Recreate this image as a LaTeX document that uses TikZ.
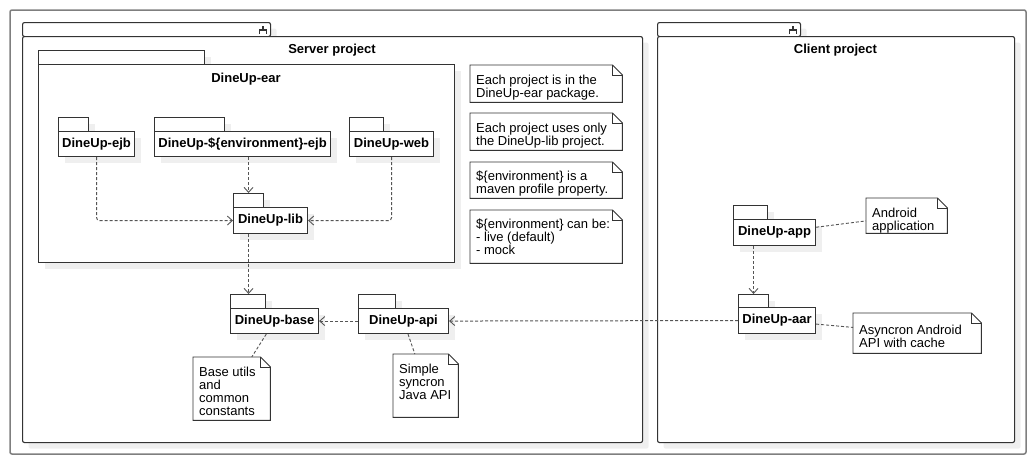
\documentclass[tikz,border=0pt]{standalone}
\usepackage{fontspec}
\setmainfont{Liberation Sans}
\usetikzlibrary{arrows.meta,shadows,calc}
\definecolor{ln}{HTML}{333333}
\definecolor{dl}{HTML}{555555}
\definecolor{sh}{HTML}{EFEFEF}
\definecolor{og}{HTML}{7F7F7F}
\begin{document}
\begin{tikzpicture}[x=1pt,y=-1pt,
  every node/.style={font=\fontsize{13}{13}\selectfont},
  box/.style={draw=ln, line width=1.1pt, fill=white, inner sep=0pt, anchor=north west,
    general shadow={fill=sh, shadow xshift=6pt, shadow yshift=-6pt}},
  frame/.style={box, rounded corners=2pt},
  pkg/.style={box, font=\fontsize{13}{13}\selectfont\bfseries},
  ttl/.style={font=\fontsize{13}{13}\selectfont\bfseries},
  notebox/.style={inner sep=0pt, anchor=north west},
  noteline/.style={draw=ln, line width=0.9pt, fill=white},
  notetext/.style={inner sep=0pt, anchor=north west, align=left},
  dep/.style={draw=dl, line width=1pt, dash pattern=on 3pt off 2pt,
    -{Straight Barb[length=5pt,width=9pt,line width=0.9pt]}},
  link/.style={draw=dl, line width=0.9pt, dash pattern=on 3pt off 2pt},
  icon/.style={draw=ln, line width=1.3pt}]
\useasboundingbox (0,0) rectangle (1036,464);
\draw[og, line width=1.5pt, rounded corners=2pt] (10,10) rectangle (1026,454);

% Server project component
\node[frame, minimum width=248, minimum height=14] (servertab) at (22,22) {};
\node[frame, minimum width=620, minimum height=406] (server) at (22,36) {};
\draw[icon] ($(servertab.north east)+(-8,4)$) -- ($(servertab.north east)+(-8,8)$)
  ($(servertab.north east)+(-11.5,12)$) -- ($(servertab.north east)+(-11.5,8)$) -- ($(servertab.north east)+(-4.5,8)$) -- ($(servertab.north east)+(-4.5,12)$);
\node[ttl] (servertitle) at (332,50) {Server project};

% Client project component
\node[frame, minimum width=143, minimum height=14] (clienttab) at (657,22) {};
\node[frame, minimum width=357, minimum height=406] (client) at (657,36) {};
\draw[icon] ($(clienttab.north east)+(-8,4)$) -- ($(clienttab.north east)+(-8,8)$)
  ($(clienttab.north east)+(-11.5,12)$) -- ($(clienttab.north east)+(-11.5,8)$) -- ($(clienttab.north east)+(-4.5,8)$) -- ($(clienttab.north east)+(-4.5,12)$);
\node[ttl] (clienttitle) at (835.5,50.5) {Client project};

% DineUp-ear package
\node[box, minimum width=166, minimum height=14] (eartab) at (38,50) {};
\node[box, minimum width=416, minimum height=198] (ear) at (38,64) {};
\node[ttl] (eartitle) at (246,79) {DineUp-ear};

% packages
\node[box, minimum width=30, minimum height=14] (ejbtab) at (58,117) {};
\node[pkg, minimum width=76, minimum height=25] (ejb) at (58,131) {DineUp-ejb};
\node[box, minimum width=70, minimum height=14] (envtab) at (154,117) {};
\node[pkg, minimum width=176, minimum height=25] (env) at (154,131) {DineUp-\$\{environment\}-ejb};
\node[box, minimum width=34, minimum height=14] (webtab) at (349,117) {};
\node[pkg, minimum width=84, minimum height=25] (web) at (349,131) {DineUp-web};
\node[box, minimum width=30, minimum height=14] (libtab) at (233,193) {};
\node[pkg, minimum width=74, minimum height=26] (lib) at (233,207) {DineUp-lib};
\node[box, minimum width=35, minimum height=14] (basetab) at (230,294) {};
\node[pkg, minimum width=88, minimum height=25] (base) at (230,308) {DineUp-base};
\node[box, minimum width=37, minimum height=14] (apitab) at (358,294) {};
\node[pkg, minimum width=90, minimum height=25] (api) at (358,308) {DineUp-api};
\node[box, minimum width=34, minimum height=14] (apptab) at (733,205) {};
\node[pkg, minimum width=82, minimum height=26] (app) at (733,219) {DineUp-app};
\node[box, minimum width=30, minimum height=13] (aartab) at (738,294) {};
\node[pkg, minimum width=77, minimum height=26] (aar) at (738,307) {DineUp-aar};

% notes
\node[notebox, minimum width=152, minimum height=37] (n1) at (470,65) {};
\node[notebox, minimum width=152, minimum height=37] (n2) at (470,113) {};
\node[notebox, minimum width=152, minimum height=36] (n3) at (470,162) {};
\node[notebox, minimum width=152, minimum height=53] (n4) at (470,210) {};
\node[notebox, minimum width=77, minimum height=63] (nbase) at (193,357) {};
\node[notebox, minimum width=65, minimum height=63] (napi) at (393,354) {};
\node[notebox, minimum width=81, minimum height=35] (napp) at (866,198) {};
\node[notebox, minimum width=128, minimum height=40] (naar) at (853,313) {};
\foreach \n in {n1,n2,n3,n4,nbase,napi,napp,naar}{
  \draw[noteline] (\n.north west) -- ($(\n.north east)+(-10,0)$) -- ($(\n.north east)+(0,10)$) -- (\n.south east) -- (\n.south west) -- cycle;
  \draw[noteline, fill=none] ($(\n.north east)+(-10,0)$) -- ($(\n.north east)+(-10,10)$) -- ($(\n.north east)+(0,10)$);
}
\node[notetext] (t1) at ($(n1.north west)+(6,9.5)$) {Each project is in the\\DineUp-ear package.};
\node[notetext] (t2) at ($(n2.north west)+(6,9.5)$) {Each project uses only\\the DineUp-lib project.};
\node[notetext] (t3) at ($(n3.north west)+(6,9)$) {\$\{environment\} is a\\maven profile property.};
\node[notetext] (t4) at ($(n4.north west)+(6,9)$) {\$\{environment\} can be:\\- live (default)\\- mock};
\node[notetext] (tbase) at ($(nbase.north west)+(6,9.5)$) {Base utils\\and\\common\\constants};
\node[notetext] (tapi) at ($(napi.north west)+(6,9.5)$) {Simple\\syncron\\Java API};
\node[notetext] (tapp) at ($(napp.north west)+(6,9.5)$) {Android\\application};
\node[notetext] (taar) at ($(naar.north west)+(6,12)$) {Asyncron Android\\API with cache};

% dependencies
\draw[dep, rounded corners=3pt] (ejb.south) |- (lib.west);
\draw[dep, rounded corners=3pt] (web.south) |- (lib.east);
\draw[dep] (libtab.north |- env.south) -- (libtab.north);
\draw[dep] (libtab.north |- lib.south) -- (libtab.north |- basetab.north);
\draw[dep] (api.west) -- (base.east);
\draw[dep] (aar.west) -- (api.east);
\draw[dep] (aartab.north |- app.south) -- (aartab.north);

% note links
\draw[link] (base) -- (nbase);
\draw[link] (api) -- (napi);
\draw[link] (app) -- (napp);
\draw[link] (aar) -- (naar);
\end{tikzpicture}
\end{document}
